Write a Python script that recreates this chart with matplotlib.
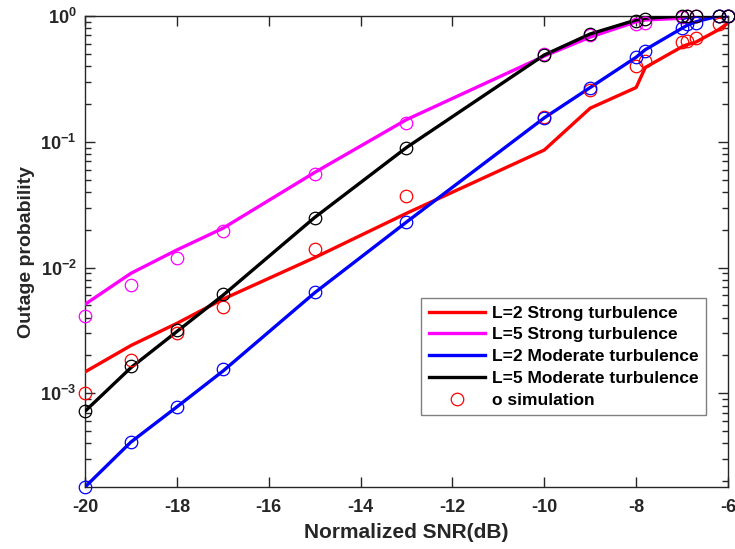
import math
import matplotlib
matplotlib.use("Agg")
import matplotlib.pyplot as plt
from matplotlib.ticker import FixedLocator, LogLocator, NullFormatter, FuncFormatter

plt.rcParams['font.family'] = ['Liberation Sans', 'DejaVu Sans']
plt.rcParams['font.weight'] = 'bold'
plt.rcParams['axes.unicode_minus'] = False
plt.rcParams['mathtext.fontset'] = 'custom'
plt.rcParams['mathtext.rm'] = 'Liberation Sans:bold'
plt.rcParams['mathtext.bf'] = 'Liberation Sans:bold'
plt.rcParams['mathtext.it'] = 'Liberation Sans:bold'

snr = [-20, -19, -18, -17, -15, -13, -10, -9, -8, -7.8, -7, -6.9, -6.7, -6.2, -6]

# analytical curves
l2_strong = [1.48e-3, 2.4e-3, 3.6e-3, 5.6e-3, 0.012, 0.027, 0.086, 0.185, 0.27, 0.39, 0.57, 0.59, 0.62, 0.78, 0.88]
l5_strong = [5.1e-3, 9.0e-3, 0.0138, 0.0205, 0.057, 0.15, 0.48, 0.68, 0.90, 0.93, 0.96, 0.97, 0.99, 1.0, 1.0]
l2_moder = [1.8e-4, 4.1e-4, 7.8e-4, 1.5e-3, 6.3e-3, 0.023, 0.155, 0.27, 0.47, 0.54, 0.80, 0.84, 0.90, 1.0, 1.0]
l5_moder = [7.2e-4, 1.6e-3, 3.1e-3, 6.0e-3, 0.025, 0.09, 0.49, 0.72, 0.93, 0.96, 1.0, 1.0, 1.0, 1.0, 1.0]

# simulation points
s2_strong = [1.0e-3, 1.85e-3, 3.0e-3, 4.9e-3, 0.014, 0.037, 0.158, 0.26, 0.40, 0.44, 0.62, 0.63, 0.67, 0.86, 1.0]
s5_strong = [4.1e-3, 7.3e-3, 0.012, 0.0195, 0.055, 0.14, 0.50, 0.70, 0.86, 0.88, 0.99, 1.0, 1.0, 1.0, 1.0]
s2_moder = [1.8e-4, 4.1e-4, 7.8e-4, 1.55e-3, 6.4e-3, 0.023, 0.155, 0.27, 0.47, 0.53, 0.80, 0.86, 0.88, 1.0, 1.0]
s5_moder = [7.3e-4, 1.65e-3, 3.2e-3, 6.2e-3, 0.025, 0.09, 0.49, 0.72, 0.91, 0.95, 1.0, 1.0, 1.0, 1.0, 1.0]

labels = ['L=2 Strong turbulence', 'L=5 Strong turbulence',
          'L=2 Moderate turbulence', 'L=5 Moderate turbulence', 'o simulation']
colors = ['#ff0000', '#ff00ff', '#0000ff', '#000000']

fig = plt.figure(figsize=(7.35, 5.49), dpi=100)
ax = fig.add_axes([85/735, 1 - 487/549, (728-85)/735, (487-16)/549])

lines = [l2_strong, l5_strong, l2_moder, l5_moder]
sims = [s2_strong, s5_strong, s2_moder, s5_moder]
handles = []
for ln, c, lab in zip(lines, colors, labels[:4]):
    h, = ax.plot(snr, ln, color=c, lw=2.4, label=lab, zorder=3)
    handles.append(h)
for s, c in zip(sims, colors):
    ax.plot(snr, s, linestyle='none', marker='o', ms=9, mfc='none', mec=c, mew=0.9,
            zorder=4, clip_on=False)
hs, = ax.plot([], [], linestyle='none', marker='o', ms=9, mfc='none', mec='#ff0000', mew=0.9,
              label=labels[4])
handles.append(hs)

ax.set_yscale('log')
ax.set_xlim(-20, -6)
ax.set_ylim(1.8e-4, 1.0)
ax.set_xticks([-20, -18, -16, -14, -12, -10, -8, -6])
ax.yaxis.set_major_locator(FixedLocator([1e-3, 1e-2, 1e-1, 1]))
ax.yaxis.set_minor_locator(LogLocator(base=10, subs=range(2, 10), numticks=20))
ax.yaxis.set_minor_formatter(NullFormatter())
ax.yaxis.set_major_formatter(FuncFormatter(
    lambda v, p: r'$\mathbf{10^{%d}}$' % int(round(math.log10(v)))))

ax.tick_params(axis='both', which='both', direction='in', top=True, right=True,
               labelsize=13, colors='#262626', labelcolor='#262626', width=1.0)
ax.tick_params(which='major', length=7)
ax.tick_params(which='minor', length=4)
ax.tick_params(axis='x', pad=9)
ax.tick_params(axis='y', pad=6)
for sp in ax.spines.values():
    sp.set_color('#262626')
    sp.set_linewidth(1.0)

ax.set_xlabel('Normalized SNR(dB)', fontsize=15, fontweight='bold', color='#262626', labelpad=5)
ax.set_ylabel('Outage probability', fontsize=14, fontweight='bold', color='#262626', labelpad=4)

leg = ax.legend(handles=handles, loc='lower right', bbox_to_anchor=(0.966, 0.152),
                fontsize=12.5, handlelength=3.2, handletextpad=0.4, labelspacing=0.38,
                borderpad=0.45, borderaxespad=0, fancybox=False, framealpha=1,
                edgecolor='#808080')
leg.get_frame().set_linewidth(1.0)
for t in leg.get_texts():
    t.set_fontweight('bold')

fig.savefig('out.png', dpi=100)
